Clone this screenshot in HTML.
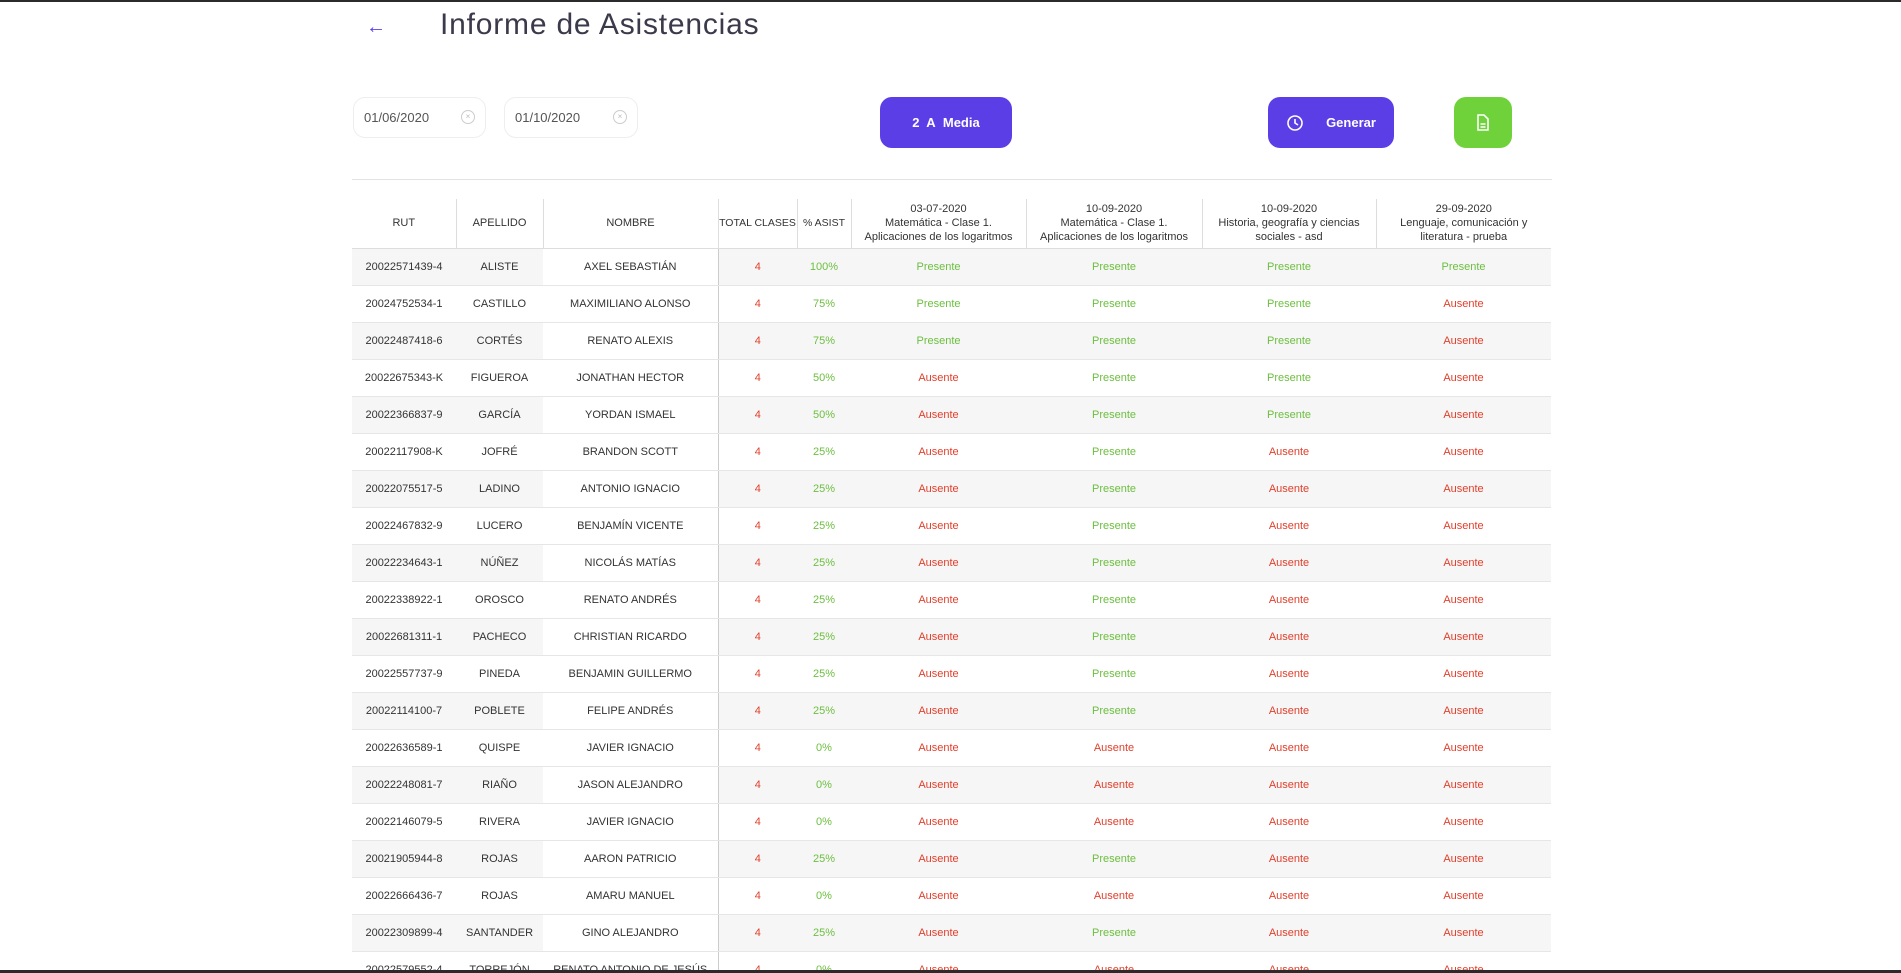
<!DOCTYPE html>
<html style="width:1901px;height:973px;overflow:hidden"><head><meta charset="utf-8"><style>
*{box-sizing:border-box;margin:0;padding:0}
body{width:1901px;height:973px;overflow:hidden;background:#fff;font-family:"Liberation Sans","DejaVu Sans",sans-serif;color:#333;position:relative}
.abs{position:absolute}
#topbar{left:0;top:0;width:1901px;height:2px;background:#2b2b2b;z-index:5}
#botbar{left:0;top:970px;width:1901px;height:3px;background:#2b2b2b;z-index:5}
#title{left:440px;top:8px;font-size:30px;color:#3a3a4a;letter-spacing:.8px}
#back{left:366px;top:16px;font-size:20px;color:#5b3ee6}
.date{top:97px;height:41px;border:1px solid #eee;border-radius:12px;font-size:13px;color:#555;padding:12px 0 0 10px}
.date span{position:absolute;right:10px;top:12px;width:14px;height:14px;border:1px solid #ccc;border-radius:50%;font-size:8px;color:#bbb;text-align:center;line-height:12px;padding:0}
.btn{top:97px;height:51px;border-radius:12px;color:#fff;font-size:13px;font-weight:bold;display:flex;align-items:center;justify-content:center}
#hr{left:352px;top:179px;width:1200px;height:1px;background:#e3e3e3}
table{position:absolute;left:352px;top:199px;border-collapse:collapse;table-layout:fixed;width:1199px;font-size:11px}
th{height:49px;font-weight:normal;text-align:center;line-height:14px;border-left:1px solid #ddd;border-bottom:1px solid #ddd;color:#333;white-space:nowrap;overflow:hidden}
th:first-child{border-left:none}
td{height:37px;text-align:center;border-bottom:1px solid #e6e6e6;color:#333;white-space:nowrap;overflow:hidden}
tr.g td{background:#f6f6f6}
tr.g td.n{background:#fff}
td.n{border-right:1px solid #ccc}
.r{color:#e0402c}.gr{color:#6cbf3f}
</style></head><body>
<div class="abs" id="topbar"></div>
<div class="abs" id="botbar"></div>
<div class="abs" id="back">&#8592;</div>
<div class="abs" id="title">Informe de Asistencias</div>
<div class="abs date" style="left:353px;width:133px">01/06/2020<span>×</span></div>
<div class="abs date" style="left:504px;width:134px">01/10/2020<span>×</span></div>
<div class="abs btn" style="left:880px;width:132px;background:#5b3ee6">2&nbsp; A&nbsp; Media</div>
<div class="abs btn" style="left:1268px;width:126px;background:#5b3ee6"><svg width="18" height="18" viewBox="0 0 18 18" style="margin-right:22px"><circle cx="9" cy="9" r="7" fill="none" stroke="#fff" stroke-width="1.6"/><path d="M9 5v4l3 2" fill="none" stroke="#fff" stroke-width="1.6"/></svg>Generar</div>
<div class="abs btn" style="left:1454px;width:58px;background:#6fd23a"><svg width="14" height="17" viewBox="0 0 14 17"><path d="M2 1h6l4 4v11H2z" fill="none" stroke="#fff" stroke-width="1.6"/><path d="M4.5 10h5M4.5 13h5" stroke="#fff" stroke-width="1.4"/></svg></div>
<div class="abs" id="hr"></div>
<table>
<colgroup><col style="width:104px"><col style="width:87px"><col style="width:175px"><col style="width:79px"><col style="width:54px"><col style="width:175px"><col style="width:176px"><col style="width:174px"><col style="width:175px"></colgroup>
<thead><tr>
<th>RUT</th><th>APELLIDO</th><th>NOMBRE</th><th style="font-size:10.5px">TOTAL CLASES</th><th style="font-size:10.5px">% ASIST</th>
<th>03-07-2020<br>Matemática - Clase 1.<br>Aplicaciones de los logaritmos</th>
<th>10-09-2020<br>Matemática - Clase 1.<br>Aplicaciones de los logaritmos</th>
<th>10-09-2020<br>Historia, geografía y ciencias<br>sociales - asd</th>
<th>29-09-2020<br>Lenguaje, comunicación y<br>literatura - prueba</th></tr></thead>
<tbody id="tb"></tbody></table>
<script>
const ruts=["20022571439-4","20024752534-1","20022487418-6","20022675343-K","20022366837-9","20022117908-K","20022075517-5","20022467832-9","20022234643-1","20022338922-1","20022681311-1","20022557737-9","20022114100-7","20022636589-1","20022248081-7","20022146079-5","20021905944-8","20022666436-7","20022309899-4","20022579552-4"];
const apellidos=["ALISTE","CASTILLO","CORTÉS","FIGUEROA","GARCÍA","JOFRÉ","LADINO","LUCERO","NÚÑEZ","OROSCO","PACHECO","PINEDA","POBLETE","QUISPE","RIAÑO","RIVERA","ROJAS","ROJAS","SANTANDER","TORREJÓN"];
const nombres=["AXEL SEBASTIÁN","MAXIMILIANO ALONSO","RENATO ALEXIS","JONATHAN HECTOR","YORDAN ISMAEL","BRANDON SCOTT","ANTONIO IGNACIO","BENJAMÍN VICENTE","NICOLÁS MATÍAS","RENATO ANDRÉS","CHRISTIAN RICARDO","BENJAMIN GUILLERMO","FELIPE ANDRÉS","JAVIER IGNACIO","JASON ALEJANDRO","JAVIER IGNACIO","AARON PATRICIO","AMARU MANUEL","GINO ALEJANDRO","RENATO ANTONIO DE JESÚS"];
const asist=["PPPP","PPPA","PPPA","APPA","APPA","APAA","APAA","APAA","APAA","APAA","APAA","APAA","APAA","AAAA","AAAA","AAAA","APAA","AAAA","APAA","AAAA"];
const tb=document.getElementById('tb');
ruts.forEach((r,i)=>{
  const tr=document.createElement('tr');
  
  
  if(i%2===0) tr.className='g';
  const a=asist[i];
  const pct=Math.round(a.split('').filter(c=>c==='P').length/a.length*100)+'%';
  let h='<td>'+r+'</td><td>'+apellidos[i]+'</td><td class="n">'+nombres[i]+'</td><td class="r">'+a.length+'</td><td class="gr">'+pct+'</td>';
  for(const c of a) h+=c==='P'?'<td class="gr">Presente</td>':'<td class="r">Ausente</td>';
  tr.innerHTML=h;
  tb.appendChild(tr);
});
</script>
</body></html>
